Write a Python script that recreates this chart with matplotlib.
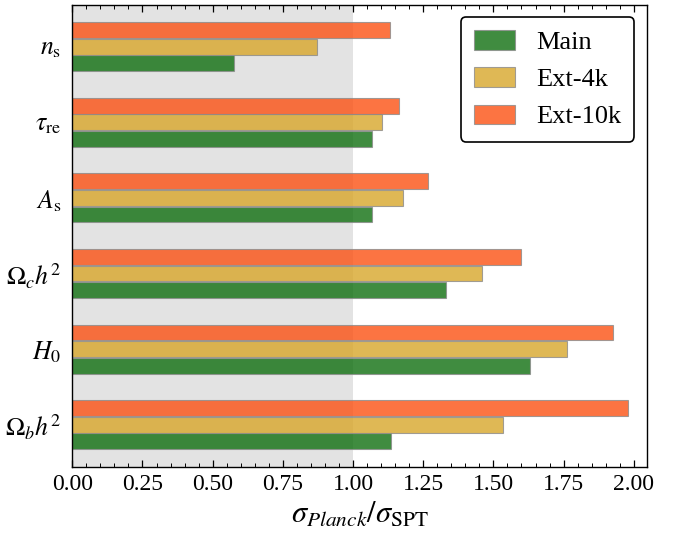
import numpy as np
import matplotlib
matplotlib.use('Agg')
import matplotlib.pyplot as plt
from matplotlib.ticker import MultipleLocator

# parameter labels, bottom to top
params = [r'$\Omega_b h^2$', r'$H_0$', r'$\Omega_c h^2$',
          r'$A_{\rm s}$', r'$\tau_{\rm re}$', r'$n_{\rm s}$']

# sigma_Planck / sigma_SPT for each data set
main = [1.134, 1.631, 1.331, 1.067, 1.067, 0.575]
ext_4k = [1.533, 1.763, 1.461, 1.177, 1.102, 0.871]
ext_10k = [1.979, 1.925, 1.600, 1.266, 1.163, 1.133]

series_names = ['Main', 'Ext-4k', 'Ext-10k']
series_colors = ['#106f10', '#d8a62a', '#fc5113']

plt.rcParams.update({'font.family': 'serif',
                     'font.serif': ['Liberation Serif'],
                     'mathtext.fontset': 'stix',
                     'font.size': 17})

fig = plt.figure(figsize=(6.84, 5.43), dpi=100)
ax = fig.add_axes([0.1057, 0.1405, 0.8406, 0.8508])

# shaded region where Planck is tighter than SPT
ax.axvspan(0, 1, color='#e3e3e3', zorder=0, lw=0)

y = np.arange(len(params))
height = 0.21
step = 0.22
for k, (vals, name, col) in enumerate(zip([main, ext_4k, ext_10k],
                                          series_names, series_colors)):
    ax.barh(y + (k - 1) * step, vals, height=height, color=col, alpha=0.8,
            edgecolor='0.55', linewidth=0.8, label=name, zorder=2)

ax.set_yticks(y)
ax.set_yticklabels(params, fontsize=18.5)
ax.tick_params(axis='y', length=0, pad=8)

ax.set_xlim(0, 2.048)
ax.set_ylim(-0.555, 5.555)
ax.xaxis.set_major_locator(MultipleLocator(0.25))
ax.xaxis.set_minor_locator(MultipleLocator(0.05))
ax.xaxis.set_major_formatter(plt.FormatStrFormatter('%.2f'))
ax.tick_params(axis='x', which='both', direction='in', top=True, bottom=True,
               labelsize=17, pad=5)
ax.tick_params(axis='x', which='major', length=5, width=0.9)
ax.tick_params(axis='x', which='minor', length=3, width=0.7)

for sp in ax.spines.values():
    sp.set_color('black')
    sp.set_linewidth(1.0)

ax.set_xlabel(r'$\sigma_{\mathit{Planck}}/\sigma_{\rm SPT}$', fontsize=22,
              labelpad=4)

leg = ax.legend(loc='upper right', fontsize=19, frameon=True, fancybox=True,
                framealpha=1, edgecolor='black', handlelength=1.55,
                handleheight=0.75, borderpad=0.5, labelspacing=0.5,
                handletextpad=0.8, borderaxespad=0,
                bbox_to_anchor=(0.977, 0.973))
leg.get_frame().set_linewidth(1.2)

plt.savefig('out.png', dpi=100)
